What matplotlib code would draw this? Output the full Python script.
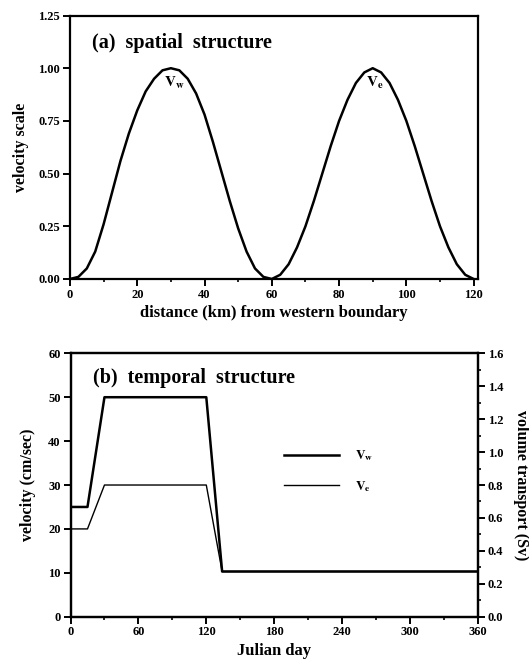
import numpy as np
import matplotlib
matplotlib.use('Agg')
import matplotlib.pyplot as plt
from matplotlib.ticker import MultipleLocator, FormatStrFormatter

plt.rcParams['font.family'] = ['Liberation Serif', 'DejaVu Serif']
plt.rcParams['font.weight'] = 'bold'
plt.rcParams['mathtext.fontset'] = 'stix'

# (a) spatial structure: velocity scale across the section, sampled every 2.5 km
dist_km = [0, 2.5, 5, 7.5, 10, 12.5, 15, 17.5, 20, 22.5, 25, 27.5, 30,
           32.5, 35, 37.5, 40, 42.5, 45, 47.5, 50, 52.5, 55, 57.5, 60,
           62.5, 65, 67.5, 70, 72.5, 75, 77.5, 80, 82.5, 85, 87.5, 90,
           92.5, 95, 97.5, 100, 102.5, 105, 107.5, 110, 112.5, 115, 117.5, 120]
vel_scale = [0.00, 0.01, 0.05, 0.13, 0.26, 0.41, 0.56, 0.69, 0.80, 0.89, 0.95, 0.99, 1.00,
             0.99, 0.95, 0.88, 0.78, 0.65, 0.51, 0.37, 0.24, 0.13, 0.05, 0.01, 0.00,
             0.02, 0.07, 0.15, 0.25, 0.37, 0.50, 0.63, 0.75, 0.85, 0.93, 0.98, 1.00,
             0.98, 0.93, 0.85, 0.75, 0.63, 0.50, 0.37, 0.25, 0.15, 0.07, 0.02, 0.00]
peak_labels = [r'$\mathbf{V_w}$', r'$\mathbf{V_e}$']
peak_km = [31, 90.5]
peak_val = [1.0, 1.0]

# (b) temporal structure: velocity time series for both jets
days = [0, 15, 30, 120, 134, 360]
vw = [25, 25, 50, 50, 10.3, 10.3]
ve = [20, 20, 30, 30, 10.3, 10.3]
series_names = [r'$\mathbf{V_w}$', r'$\mathbf{V_e}$']

sv_per_cms = 1.6 / 60.0  # volume transport per unit velocity

fig = plt.figure(figsize=(5.29, 6.63), dpi=100)

def style_axes(ax):
    for s in ax.spines.values():
        s.set_linewidth(1.6)
    ax.tick_params(which='major', direction='out', length=5, width=1.4, labelsize=9, pad=2)
    ax.tick_params(which='minor', direction='out', length=2.5, width=1.2)
    for lab in ax.get_xticklabels() + ax.get_yticklabels():
        lab.set_fontweight('bold')

# ---- panel (a)
ax1 = fig.add_axes([0.1323, 0.5792, 0.7713, 0.3974])
ax1.plot(dist_km, vel_scale, color='black', lw=1.8, solid_joinstyle='round')
ax1.set_xlim(0, 121.3)
ax1.set_ylim(0, 1.25)
ax1.xaxis.set_major_locator(MultipleLocator(20))
ax1.xaxis.set_minor_locator(MultipleLocator(10))
ax1.yaxis.set_major_locator(MultipleLocator(0.25))
ax1.yaxis.set_major_formatter(FormatStrFormatter('%.2f'))
style_axes(ax1)
for lab, xk, yv in zip(peak_labels, peak_km, peak_val):
    ax1.text(xk, yv - 0.03, lab, ha='center', va='top', fontsize=11)
ax1.text(0.055, 0.895, '(a)  spatial  structure', transform=ax1.transAxes,
         fontsize=14.5, fontweight='bold', ha='left', va='center')
ax1.set_xlabel('distance (km) from western boundary', fontsize=12, fontweight='bold', labelpad=3)
ax1.set_ylabel('velocity scale', fontsize=11.5, fontweight='bold', labelpad=7)

# ---- panel (b)
ax2 = fig.add_axes([0.1333, 0.0698, 0.770, 0.3973])
ax2.plot(days, vw, color='black', lw=1.8, label=series_names[0])
ax2.plot(days, ve, color='black', lw=1.0, label=series_names[1])
ax2.set_xlim(0, 360)
ax2.set_ylim(0, 60)
ax2.xaxis.set_major_locator(MultipleLocator(60))
ax2.xaxis.set_minor_locator(MultipleLocator(30))
ax2.yaxis.set_major_locator(MultipleLocator(10))
style_axes(ax2)
ax2.text(0.055, 0.905, '(b)  temporal  structure', transform=ax2.transAxes,
         fontsize=14.5, fontweight='bold', ha='left', va='center')
ax2.set_xlabel('Julian day', fontsize=12, fontweight='bold', labelpad=3)
ax2.set_ylabel('velocity (cm/sec)', fontsize=11.5, fontweight='bold', labelpad=9)

leg = ax2.legend(loc='upper left', bbox_to_anchor=(0.524, 0.64), frameon=False,
                 handlelength=4.2, handletextpad=1.2, labelspacing=1.2,
                 borderpad=0, borderaxespad=0, fontsize=9.5)

ax3 = ax2.twinx()
ax3.set_ylim(0, 60 * sv_per_cms)
ax3.yaxis.set_major_locator(MultipleLocator(0.2))
ax3.yaxis.set_minor_locator(MultipleLocator(0.1))
ax3.yaxis.set_major_formatter(FormatStrFormatter('%.1f'))
style_axes(ax3)
ax3.set_ylabel('volume transport (Sv)', fontsize=11.5, fontweight='bold',
               rotation=-90, labelpad=19)

fig.savefig('out.png', dpi=100)
